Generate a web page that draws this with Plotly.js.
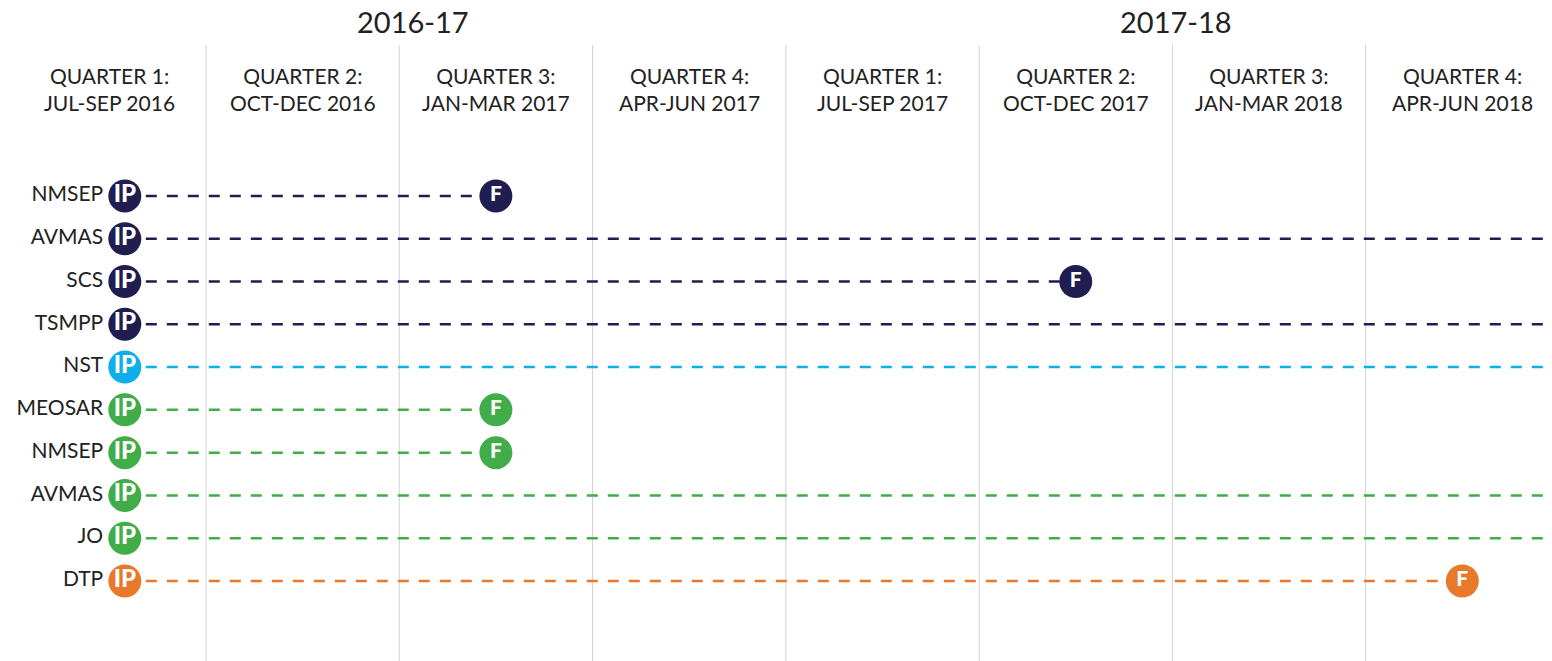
<!DOCTYPE html>
<html>
<head>
<meta charset="utf-8">
<script src="https://cdn.plot.ly/plotly-3.0.1.min.js"></script>
<style>html,body{margin:0;padding:0;background:#fff;}#chart{width:1552px;height:661px;}</style>
</head>
<body>
<div id="chart"></div>
<script>
// ---- data ----
const rowLabels = ["NMSEP","AVMAS","SCS","TSMPP","NST","MEOSAR","NMSEP","AVMAS","JO","DTP"];
const rowGroups = ["navy","navy","navy","navy","blue","green","green","green","green","orange"];
// quarter index (0-based, 0 = Q1 Jul-Sep 2016) at which finished; null = still in progress
const finishQuarter = [2, null, 5, null, null, 2, 2, null, null, 7];
const startQuarter = [0, 0, 0, 0, 0, 0, 0, 0, 0, 0];
const quarterTitles = ["QUARTER 1:","QUARTER 2:","QUARTER 3:","QUARTER 4:","QUARTER 1:","QUARTER 2:","QUARTER 3:","QUARTER 4:"];
const quarterPeriods = ["JUL-SEP 2016","OCT-DEC 2016","JAN-MAR 2017","APR-JUN 2017","JUL-SEP 2017","OCT-DEC 2017","JAN-MAR 2018","APR-JUN 2018"];
const years = ["2016-17","2017-18"];

// ---- styles ----
const colors = {navy:"#201e50", blue:"#0eaee8", green:"#41ad49", orange:"#e8792b"};
const FONT = "Lato, 'Open Sans', sans-serif";
const ipOffset = 0.58;   // IP marker position inside the start quarter
const endOpen = 8.2;     // ongoing lines run off the right edge

const traces = [];
const rowIdx = rowLabels.map((_, i) => i);

// dashed lines
rowLabels.forEach((lab, i) => {
  const x0 = startQuarter[i] + ipOffset;
  const x1 = finishQuarter[i] === null ? endOpen : finishQuarter[i] + 0.5;
  traces.push({
    type: "scatter", mode: "lines", x: [x0, x1], y: [i, i],
    line: {color: colors[rowGroups[i]], width: 2.5, dash: "11px,10px"},
    hoverinfo: "skip", showlegend: false
  });
});

// IP markers with row labels on the left
traces.push({
  type: "scatter", mode: "markers+text",
  x: startQuarter.map(q => q + ipOffset), y: rowIdx,
  marker: {size: 33, color: rowGroups.map(g => colors[g])},
  text: rowLabels, textposition: "middle left",
  textfont: {family: FONT, size: 21, color: "#222"},
  hoverinfo: "skip", showlegend: false
});
traces.push({
  type: "scatter", mode: "text",
  x: startQuarter.map(q => q + ipOffset), y: rowIdx,
  text: rowLabels.map(() => "IP"), textposition: "middle center",
  textfont: {family: FONT, size: 24, color: "#fff", weight: 900},
  hoverinfo: "skip", showlegend: false
});

// F markers
const fIdx = rowIdx.filter(i => finishQuarter[i] !== null);
traces.push({
  type: "scatter", mode: "markers+text",
  x: fIdx.map(i => finishQuarter[i] + 0.5), y: fIdx,
  marker: {size: 33, color: fIdx.map(i => colors[rowGroups[i]])},
  text: fIdx.map(() => "F"), textposition: "middle center",
  textfont: {family: FONT, size: 21, color: "#fff", weight: 900},
  hoverinfo: "skip", showlegend: false
});

// gridlines between quarters
const shapes = [];
for (let q = 1; q < quarterTitles.length; q++) {
  shapes.push({type: "line", xref: "x", yref: "paper", x0: q, x1: q, y0: 0, y1: 0.932,
    line: {color: "#d3d3d3", width: 1}, layer: "below"});
}

const annotations = [];
quarterTitles.forEach((t, q) => {
  annotations.push({xref: "x", yref: "paper", x: q + 0.5, y: 0.8653, yanchor: "middle",
    text: t + "<br>" + quarterPeriods[q], showarrow: false,
    font: {family: FONT, size: 21, color: "#222"}, align: "center"});
});
annotations.push({xref: "x", yref: "paper", x: 2.07, y: 0.967, yanchor: "middle", text: years[0],
  showarrow: false, font: {family: FONT, size: 29, color: "#222"}});
annotations.push({xref: "x", yref: "paper", x: 6.02, y: 0.967, yanchor: "middle", text: years[1],
  showarrow: false, font: {family: FONT, size: 29, color: "#222"}});

const layout = {
  width: 1552, height: 661,
  margin: {l: 0, r: 0, t: 0, b: 0},
  paper_bgcolor: "#fff", plot_bgcolor: "#fff",
  xaxis: {range: [-0.0657, 7.964], showgrid: false, zeroline: false, showticklabels: false, fixedrange: true},
  yaxis: {range: [10.87, -4.58], showgrid: false, zeroline: false, showticklabels: false, fixedrange: true},
  shapes: shapes, annotations: annotations, showlegend: false
};

Plotly.newPlot("chart", traces, layout, {displayModeBar: false, staticPlot: true});
</script>
</body>
</html>
